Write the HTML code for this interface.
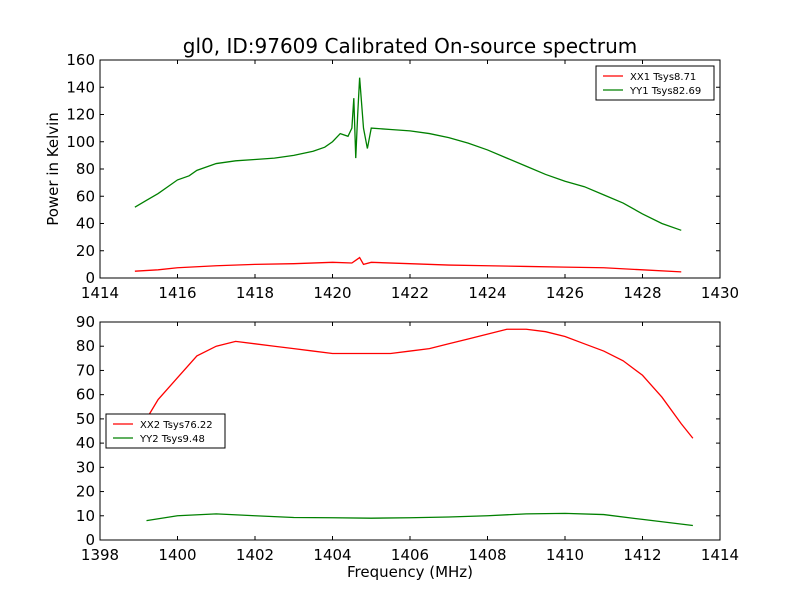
<!DOCTYPE html>
<html><head><meta charset="utf-8"><style>
body{margin:0;background:#fff;width:800px;height:600px;overflow:hidden}
svg{font-family:"DejaVu Sans","Liberation Sans",sans-serif}
</style></head><body>
<svg id="c" width="800" height="600">
<rect width="800" height="600" fill="#fff"/>
<text x="410" y="53" font-size="20" text-anchor="middle">gl0, ID:97609 Calibrated On-source spectrum</text>
<text transform="translate(58,169) rotate(-90)" font-size="15" text-anchor="middle">Power in Kelvin</text>
<text x="410" y="577" font-size="15" text-anchor="middle">Frequency (MHz)</text>
</svg>
<script>
const topXX1x=[1414.9,1415.5,1416,1417,1418,1419,1420,1420.5,1420.6,1420.7,1420.8,1421,1422,1423,1424,1425,1426,1427,1428,1429];
const topXX1y=[5,6,7.5,9,10,10.5,11.5,11,13,15,10,11.5,10.5,9.5,9,8.5,8,7.5,6,4.5];
const topYY1x=[1414.9,1415.2,1415.5,1415.8,1416,1416.3,1416.5,1416.8,1417,1417.5,1418,1418.5,1419,1419.5,1419.8,1420,1420.2,1420.4,1420.5,1420.55,1420.6,1420.65,1420.7,1420.8,1420.9,1421,1421.5,1422,1422.5,1423,1423.5,1424,1424.5,1425,1425.5,1426,1426.5,1427,1427.5,1428,1428.5,1429];
const topYY1y=[52,57,62,68,72,75,79,82,84,86,87,88,90,93,96,100,106,104,110,132,88,120,147,110,95,110,109,108,106,103,99,94,88,82,76,71,67,61,55,47,40,35];
const botXX2x=[1399.2,1399.5,1400,1400.5,1401,1401.5,1402,1402.5,1403,1403.5,1404,1404.5,1405,1405.5,1406,1406.5,1407,1407.5,1408,1408.5,1409,1409.5,1410,1410.5,1411,1411.5,1412,1412.5,1413,1413.3];
const botXX2y=[50,58,67,76,80,82,81,80,79,78,77,77,77,77,78,79,81,83,85,87,87,86,84,81,78,74,68,59,48,42];
const botYY2x=[1399.2,1400,1401,1402,1403,1404,1405,1406,1407,1408,1409,1410,1411,1412,1413.3];
const botYY2y=[8,10,10.8,10,9.3,9.2,9,9.2,9.5,10,10.8,11,10.5,8.5,6];
const topXTicks=[1414,1416,1418,1420,1422,1424,1426,1428,1430];
const topYTicks=[0,20,40,60,80,100,120,140,160];
const botXTicks=[1398,1400,1402,1404,1406,1408,1410,1412,1414];
const botYTicks=[0,10,20,30,40,50,60,70,80,90];
const NS="http://www.w3.org/2000/svg";
const svg=document.getElementById('c');
function mk(t,a,p){const e=document.createElementNS(NS,t);for(const k in a)e.setAttribute(k,a[k]);(p||svg).appendChild(e);return e;}
function panel(name,x0,x1,y0,y1,top,bot,xt,yt,series,leg){
  const L=100,R=720;
  const sx=v=>L+(v-x0)/(x1-x0)*(R-L), sy=v=>bot-(v-y0)/(y1-y0)*(bot-top);
  const g=mk('g',{});
  
  
  series.forEach(s=>{
    const p=mk('polyline',{points:s.x.map((v,i)=>sx(v)+','+sy(s.y[i])).join(' '),fill:'none',stroke:s.c,'stroke-width':1.3},g);
    
    
  });
  const f=mk('rect',{x:L,y:top,width:R-L,height:bot-top,fill:'none',stroke:'#000'},g);
  
  
  xt.forEach(v=>{const X=sx(v);mk('line',{x1:X,x2:X,y1:bot,y2:bot-4,stroke:'#000'},g);mk('line',{x1:X,x2:X,y1:top,y2:top+4,stroke:'#000'},g);
    const t=mk('text',{x:X,y:bot+20,'font-size':15,'text-anchor':'middle'},g);t.textContent=v;
    
    });
  yt.forEach(v=>{const Y=sy(v);mk('line',{x1:L,x2:L+4,y1:Y,y2:Y,stroke:'#000'},g);mk('line',{x1:R,x2:R-4,y1:Y,y2:Y,stroke:'#000'},g);
    const t=mk('text',{x:L-5,y:Y+5,'font-size':15,'text-anchor':'end'},g);t.textContent=v;
    
    });
  const lg=mk('g',{},g);
  
  
  mk('rect',{x:leg[0],y:leg[1],width:leg[2],height:34,fill:'#fff',stroke:'#000'},lg);
  series.forEach((s,i)=>{const Y=leg[1]+10+i*14;
    mk('line',{x1:leg[0]+7,x2:leg[0]+27,y1:Y,y2:Y,stroke:s.c,'stroke-width':1.3},lg);
    const t=mk('text',{x:leg[0]+34,y:Y+4,'font-size':10},lg);t.textContent=s.l;
    
    });
}
panel('top-panel',1414,1430,0,160,60,278,topXTicks,topYTicks,
 [{x:topXX1x,y:topXX1y,c:'#ff0000',n:'line-xx1',l:'XX1 Tsys8.71'},{x:topYY1x,y:topYY1y,c:'#008000',n:'line-yy1',l:'YY1 Tsys82.69'}],[596,66,118]);
panel('bottom-panel',1398,1414,0,90,322,540,botXTicks,botYTicks,
 [{x:botXX2x,y:botXX2y,c:'#ff0000',n:'line-xx2',l:'XX2 Tsys76.22'},{x:botYY2x,y:botYY2y,c:'#008000',n:'line-yy2',l:'YY2 Tsys9.48'}],[106,414,119]);
</script>
</body></html>
